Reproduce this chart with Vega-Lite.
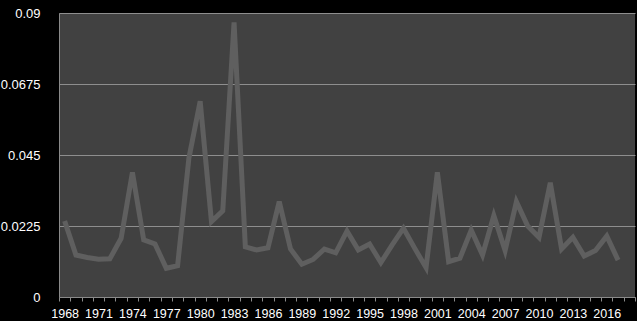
{
  "$schema": "https://vega.github.io/schema/vega-lite/v6.json",
  "width": 576,
  "height": 284,
  "autosize": {"type": "none"},
  "padding": {"left": 59, "top": 13, "right": 2, "bottom": 24},
  "background": "#000000",
  "config": {
    "view": {"fill": "#414141", "stroke": null},
    "axis": {
      "labelFont": "Liberation Sans",
      "labelColor": "#ffffff",
      "domainColor": "#8a8a8a",
      "tickColor": "#8a8a8a",
      "gridColor": "#8e8e8e",
      "gridOpacity": 1,
      "title": null
    }
  },
  "data": {
    "values": [
      {"year": 1968, "value": 0.0241},
      {"year": 1969, "value": 0.0133},
      {"year": 1970, "value": 0.0125},
      {"year": 1971, "value": 0.0120},
      {"year": 1972, "value": 0.0121},
      {"year": 1973, "value": 0.0186},
      {"year": 1974, "value": 0.0395},
      {"year": 1975, "value": 0.0181},
      {"year": 1976, "value": 0.0168},
      {"year": 1977, "value": 0.0091},
      {"year": 1978, "value": 0.0099},
      {"year": 1979, "value": 0.0440},
      {"year": 1980, "value": 0.0620},
      {"year": 1981, "value": 0.0239},
      {"year": 1982, "value": 0.0273},
      {"year": 1983, "value": 0.0870},
      {"year": 1984, "value": 0.0159},
      {"year": 1985, "value": 0.0149},
      {"year": 1986, "value": 0.0156},
      {"year": 1987, "value": 0.0302},
      {"year": 1988, "value": 0.0152},
      {"year": 1989, "value": 0.0104},
      {"year": 1990, "value": 0.0119},
      {"year": 1991, "value": 0.0152},
      {"year": 1992, "value": 0.0140},
      {"year": 1993, "value": 0.0209},
      {"year": 1994, "value": 0.0149},
      {"year": 1995, "value": 0.0168},
      {"year": 1996, "value": 0.0109},
      {"year": 1997, "value": 0.0165},
      {"year": 1998, "value": 0.0218},
      {"year": 1999, "value": 0.0154},
      {"year": 2000, "value": 0.0093},
      {"year": 2001, "value": 0.0395},
      {"year": 2002, "value": 0.0112},
      {"year": 2003, "value": 0.0123},
      {"year": 2004, "value": 0.0212},
      {"year": 2005, "value": 0.0133},
      {"year": 2006, "value": 0.0258},
      {"year": 2007, "value": 0.0147},
      {"year": 2008, "value": 0.0302},
      {"year": 2009, "value": 0.0225},
      {"year": 2010, "value": 0.0189},
      {"year": 2011, "value": 0.0362},
      {"year": 2012, "value": 0.0152},
      {"year": 2013, "value": 0.0189},
      {"year": 2014, "value": 0.0130},
      {"year": 2015, "value": 0.0147},
      {"year": 2016, "value": 0.0193},
      {"year": 2017, "value": 0.0117}
    ]
  },
  "mark": {"type": "line", "color": "#5f5f5f", "strokeWidth": 5, "strokeJoin": "miter", "strokeCap": "butt"},
  "encoding": {
    "x": {
      "field": "year",
      "type": "ordinal",
      "scale": {
        "type": "band",
        "paddingInner": 0,
        "paddingOuter": 0,
        "domain": [1968,1969,1970,1971,1972,1973,1974,1975,1976,1977,1978,1979,1980,1981,1982,1983,1984,1985,1986,1987,1988,1989,1990,1991,1992,1993,1994,1995,1996,1997,1998,1999,2000,2001,2002,2003,2004,2005,2006,2007,2008,2009,2010,2011,2012,2013,2014,2015,2016,2017,2018]
      },
      "axis": {
        "tickBand": "extent",
        "tickSize": 4,
        "labelPadding": 6,
        "labelFontSize": 12.5,
        "labelAngle": 0,
        "labelOverlap": false,
        "grid": false,
        "labelExpr": "(datum.value - 1968) % 3 === 0 ? datum.label : ''"
      }
    },
    "y": {
      "field": "value",
      "type": "quantitative",
      "scale": {"domain": [0, 0.09], "nice": false, "zero": true},
      "axis": {
        "values": [0, 0.0225, 0.045, 0.0675, 0.09],
        "labelExpr": "'' + datum.value",
        "ticks": false,
        "labelPadding": 19,
        "labelFontSize": 13,
        "grid": true
      }
    }
  }
}
